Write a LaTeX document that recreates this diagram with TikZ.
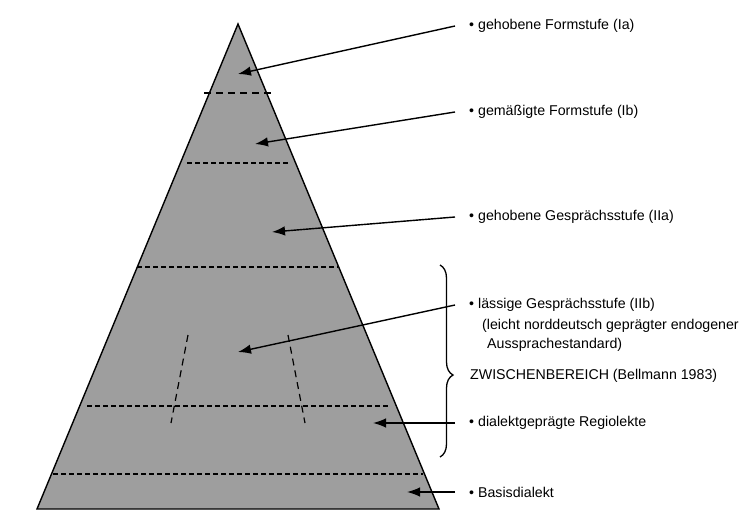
\documentclass[tikz,border=0pt]{standalone}
\usepackage{fontspec}
\setmainfont{Liberation Sans}
\usetikzlibrary{arrows.meta, decorations.pathreplacing}
\definecolor{pyrgray}{RGB}{158,158,158}

\begin{document}
\begin{tikzpicture}[
  x=1pt, y=-1pt,
  level/.style={anchor=west, inner xsep=14pt, inner ysep=0pt, font=\fontsize{14.2}{17}\selectfont},
  plain/.style={anchor=west, inner sep=0pt, font=\fontsize{14.2}{17}\selectfont},
  arrow/.style={line width=1.4pt, -{Latex[length=13pt, width=9.5pt]}},
  longdash/.style={line width=1.2pt, dash pattern=on 7pt off 5pt},
  tier/.style={line width=1.2pt, dash pattern=on 4.5pt off 3.5pt}
]
\useasboundingbox (0,0) rectangle (749,521);

% Pyramid
\coordinate (apex) at (238,24);
\coordinate (baseL) at (37,509);
\coordinate (baseR) at (439,509);
\draw [fill=pyrgray, line width=1.4pt] (apex) -- (baseR) -- (baseL) -- cycle;

% Tier borders
\draw [longdash] (204,93) -- (272,93);
\draw [tier] (187,163) -- (289,163);
\draw [tier] (137,267) -- (338,267);
\draw [tier] (87,406) -- (391,406);
\draw [tier] (53,474) -- (423,474);
\draw [longdash] (188,335) -- (171,423);
\draw [longdash] (288,335) -- (305,423);

% Arrow targets
\coordinate (tIa) at (238,74);
\coordinate (tIb) at (255,144);
\coordinate (tIIa) at (272,232);
\coordinate (tIIb) at (238,352);
\coordinate (tRegio) at (373,423);
\coordinate (tBasis) at (407,492);

% Labels
\node (lIa) [level] at (455,26) {\textbullet\ gehobene Formstufe (Ia)};
\node (lIb) [level] at (455,112) {\textbullet\ gemäßigte Formstufe (Ib)};
\node (lIIa) [level] at (455,217) {\textbullet\ gehobene Gesprächsstufe (IIa)};
\node (lIIb) [level] at (455,305) {\textbullet\ lässige Gesprächsstufe (IIb)};
\node (lIIbA) [plain] at (482,326) {(leicht norddeutsch geprägter endogener};
\node (lIIbB) [plain] at (487,345) {Aussprachestandard)};
\node (zwb) [plain] at (470,376) {ZWISCHENBEREICH (Bellmann 1983)};
\node (lRegio) [level] at (455,423) {\textbullet\ dialektgeprägte Regiolekte};
\node (lBasis) [level] at (455,492) {\textbullet\ Basisdialekt};

% Brace
\coordinate (braceTop) at (440,265);
\coordinate (braceBot) at (440,457);
\draw [line width=1.3pt, decorate, decoration={brace, amplitude=13pt, aspect=0.573}] (braceTop) -- (braceBot);

% Arrows
\draw [arrow] (lIa.west) -- (tIa);
\draw [arrow] (lIb.west) -- (tIb);
\draw [arrow] (lIIa.west) -- (tIIa);
\draw [arrow] (lIIb.west) -- (tIIb);
\draw [arrow] (lRegio.west) -- (tRegio);
\draw [arrow] (lBasis.west) -- (tBasis);
\end{tikzpicture}
\end{document}
